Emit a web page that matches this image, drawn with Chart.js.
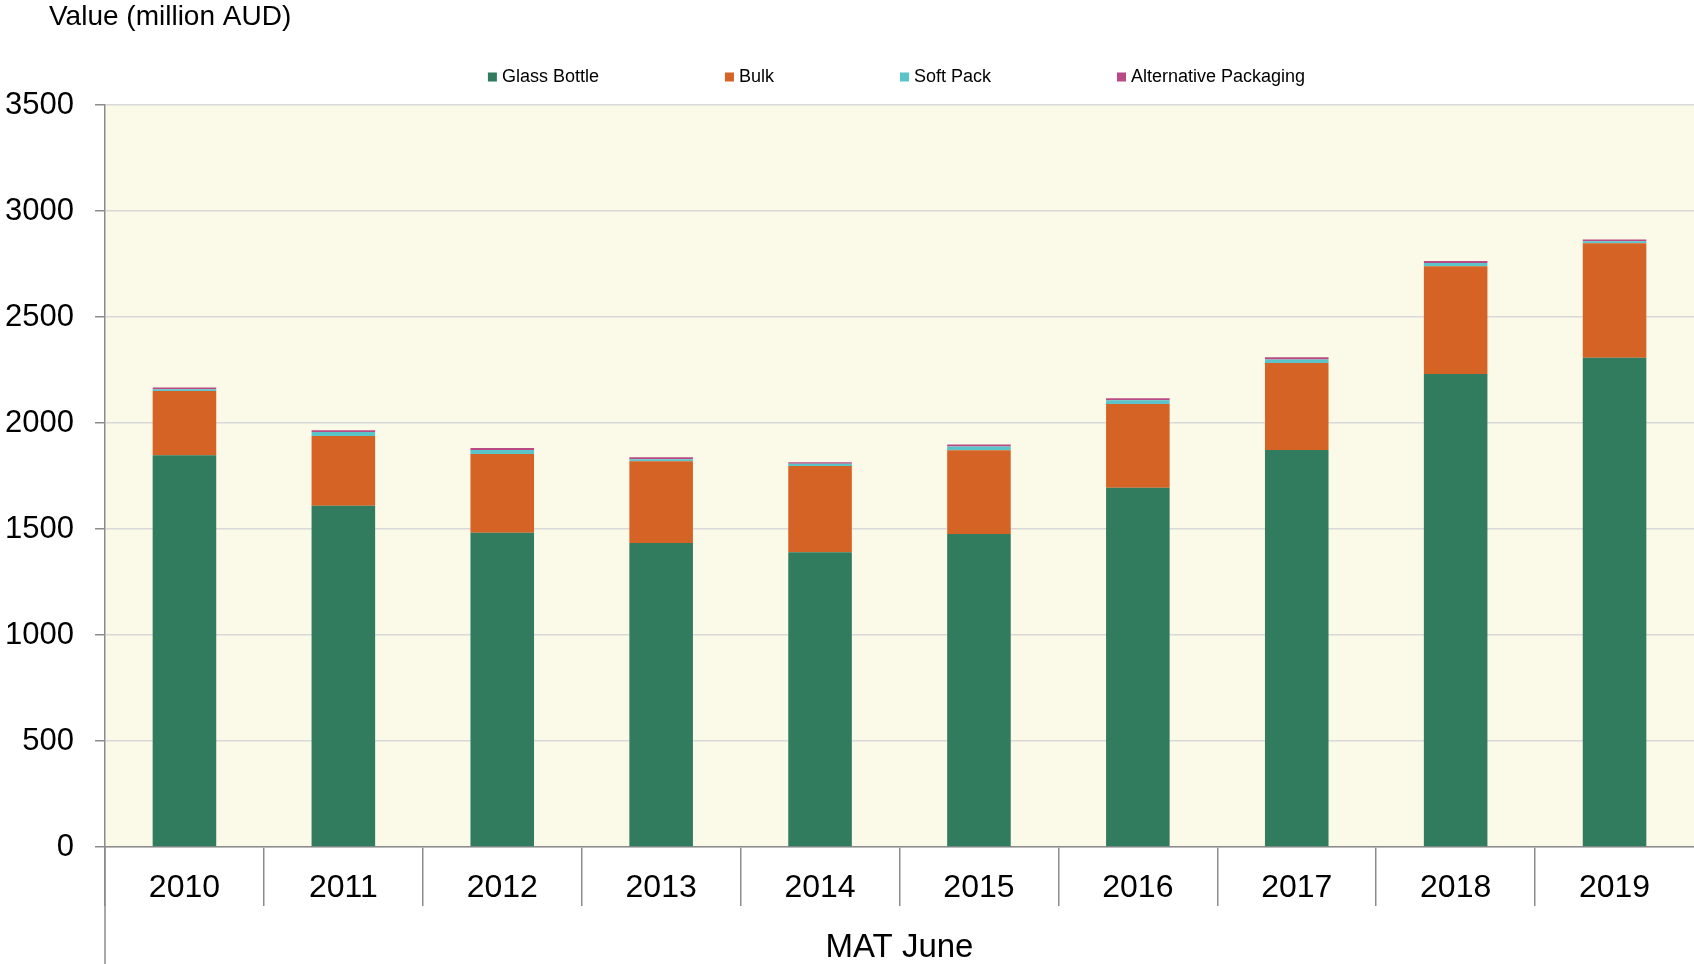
<!DOCTYPE html>
<html>
<head>
<meta charset="utf-8">
<script src="https://cdn.jsdelivr.net/npm/chart.js@4"></script>
<style>
  html, body { margin: 0; padding: 0; background: #fff; }
  canvas { display: block; }
</style>
</head>
<body>
<canvas id="mainChart" width="1694" height="964"></canvas>
<script>
const YEARS = ['2010', '2011', '2012', '2013', '2014', '2015', '2016', '2017', '2018', '2019'];
const GLASS_BOTTLE = [1848, 1610, 1482, 1434, 1390, 1476, 1695, 1873, 2231, 2308];
const BULK = [303, 329, 372, 385, 407, 395, 395, 410, 508, 540];
const SOFT_PACK = [8, 18, 19, 10, 11, 18, 17, 17, 16, 9];
const ALT_PACKAGING = [9, 9, 9, 9, 7, 9, 10, 10, 9, 9];
const SERIES_NAMES = ['Glass Bottle', 'Bulk', 'Soft Pack', 'Alternative Packaging'];
const Y_MAX = 3500;
const Y_STEP = 500;

const FONT = '"Liberation Sans", Arial, sans-serif';
const COLORS = ['#317b5f', '#d56326', '#5bc4c8', '#b94a85'];
const AXIS_GREY = '#8c8c8c';

const plotBackground = {
    id: 'plotBackground',
    beforeDraw(chart) {
        const ctx = chart.ctx;
        const area = chart.chartArea;
        ctx.save();
        ctx.fillStyle = '#ffffff';
        ctx.fillRect(0, 0, chart.width, chart.height);
        ctx.fillStyle = '#fbf9e7';
        ctx.fillRect(area.left, area.top, area.right - area.left, area.bottom - area.top);
        ctx.restore();
    }
};

const extras = {
    id: 'extras',
    afterDraw(chart) {
        const ctx = chart.ctx;
        const area = chart.chartArea;
        ctx.save();
        // y axis line runs on down through the label band
        ctx.strokeStyle = AXIS_GREY;
        ctx.lineWidth = 1.5;
        ctx.beginPath();
        ctx.moveTo(area.left, area.bottom);
        ctx.lineTo(area.left, chart.height);
        ctx.stroke();

        // unit label top left
        ctx.fillStyle = '#000';
        ctx.font = '28px ' + FONT;
        ctx.textAlign = 'left';
        ctx.textBaseline = 'middle';
        ctx.fillText('Value (million AUD)', 49, 17);

        // legend row, centred over the plot
        ctx.font = '18px ' + FONT;
        const box = 9, gap = 5, spacing = 126;
        const items = chart.data.datasets.map(ds => ({
            text: ds.label,
            color: ds.backgroundColor,
            w: box + gap + ctx.measureText(ds.label).width
        }));
        const total = items.reduce((s, it) => s + it.w, 0) + spacing * (items.length - 1);
        let x = (area.left + area.right) / 2 - total / 2 - 3;
        const y = 77;
        items.forEach(it => {
            ctx.fillStyle = it.color;
            ctx.fillRect(x, y - box / 2, box, box);
            ctx.fillStyle = '#000';
            ctx.fillText(it.text, x + box + gap, y);
            x += it.w + spacing;
        });
        ctx.restore();
    }
};

function createChart() {
    const CTX = document.getElementById('mainChart').getContext('2d');
    const values = [GLASS_BOTTLE, BULK, SOFT_PACK, ALT_PACKAGING];
    return new Chart(CTX, {
        type: 'bar',
        data: {
            labels: YEARS,
            datasets: values.map((data, i) => ({
                label: SERIES_NAMES[i],
                data: data,
                backgroundColor: COLORS[i],
                borderWidth: 0,
                categoryPercentage: 1,
                barPercentage: 0.4
            }))
        },
        options: {
            responsive: false,
            animation: false,
            devicePixelRatio: 1,
            layout: { padding: { top: 105, left: 0, right: 0, bottom: 0 } },
            plugins: {
                legend: { display: false },
                title: { display: false },
                tooltip: { enabled: false }
            },
            scales: {
                x: {
                    stacked: true,
                    offset: true,
                    grid: {
                        display: true,
                        offset: true,
                        drawOnChartArea: false,
                        tickLength: 59,
                        // the closing separator past the last year has no tick context
                        color: (c) => c.tick ? AXIS_GREY : 'rgba(0,0,0,0)',
                        lineWidth: 1.5
                    },
                    border: { display: true, color: AXIS_GREY, width: 1.5 },
                    ticks: {
                        color: '#000',
                        font: { family: FONT, size: 32 },
                        padding: -37,
                        maxRotation: 0,
                        autoSkip: false
                    },
                    title: {
                        display: true,
                        text: 'MAT June',
                        color: '#000',
                        font: { family: FONT, size: 33, lineHeight: 1 },
                        padding: 0
                    },
                    afterFit: (scale) => { scale.height = 117; }
                },
                y: {
                    stacked: true,
                    min: 0,
                    max: Y_MAX,
                    grid: {
                        color: '#d9d9d9',
                        lineWidth: 1.5,
                        tickColor: AXIS_GREY,
                        tickLength: 10
                    },
                    border: { display: true, color: AXIS_GREY, width: 1.5 },
                    ticks: {
                        stepSize: Y_STEP,
                        color: '#000',
                        font: { family: FONT, size: 31 },
                        padding: 21,
                        callback: (value) => String(value)
                    },
                    afterFit: (scale) => { scale.width = 105; }
                }
            }
        },
        plugins: [plotBackground, extras]
    });
}

createChart();
</script>
</body>
</html>
